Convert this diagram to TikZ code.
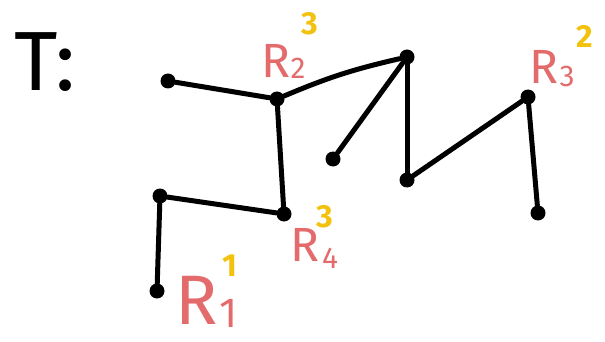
\documentclass[tikz,border=0pt]{standalone}
\usepackage{fontspec}
\setmainfont{Fira Sans}
\definecolor{redlab}{HTML}{E46B6B}
\definecolor{yellab}{HTML}{F2C20F}
\begin{document}
\begin{tikzpicture}[x=1pt,y=-1pt,
  dot/.style={circle,fill=black,inner sep=0pt,minimum size=15pt},
  edge/.style={line width=5pt,line cap=round,line join=round},
  rlab/.style={text=redlab,inner sep=0pt,font=\fontsize{48}{48}\selectfont},
  rsub/.style={text=redlab,inner sep=0pt,font=\fontsize{30}{30}\selectfont},
  ysup/.style={text=yellab,inner sep=0pt,font=\bfseries\fontsize{32}{32}\selectfont}]
\useasboundingbox (0,0) rectangle (605,342);
% title
\node[inner sep=0pt,font=\fontsize{84}{84}\selectfont] (title) at (45,62) {T:};
% vertices
\node[dot] (a) at (168,81) {};
\node[dot] (r2) at (277,99) {};
\node[dot] (top) at (407,57) {};
\node[dot] (m) at (333,159) {};
\node[dot] (z) at (407,180) {};
\node[dot] (r3) at (528,97) {};
\node[dot] (r3l) at (538,213) {};
\node[dot] (r4) at (284,214) {};
\node[dot] (b) at (160,196) {};
\node[dot] (r1) at (157,291) {};
% edges
\draw[edge] (a) -- (r2);
\draw[edge] (r2) to[bend left=5] (top);
\draw[edge] (top) -- (m);
\draw[edge] (top) -- (z);
\draw[edge] (z) -- (r3);
\draw[edge] (r3) -- (r3l);
\draw[edge] (r2) -- (r4);
\draw[edge] (r4) -- (b);
\draw[edge] (b) -- (r1);
% labels
\node[rlab] (l2) at (276,61) {R};
\node[rsub] (l2s) at (298,68) {2};
\node[ysup] (l2p) at (310,24) {3};
\node[rlab] (l3) at (544,67) {R};
\node[rsub] (l3s) at (567,76) {3};
\node[ysup] (l3p) at (585,36) {2};
\node[rlab] (l4) at (305,245) {R};
\node[rsub] (l4s) at (330,258) {4};
\node[ysup] (l4p) at (325,217) {3};
\node[rlab,font=\fontsize{70}{70}\selectfont] (l1) at (197,300) {R};
\node[rsub,font=\fontsize{42}{42}\selectfont] (l1s) at (229,313) {1};
\node[ysup] (l1p) at (230,266) {1};
\end{tikzpicture}
\end{document}
